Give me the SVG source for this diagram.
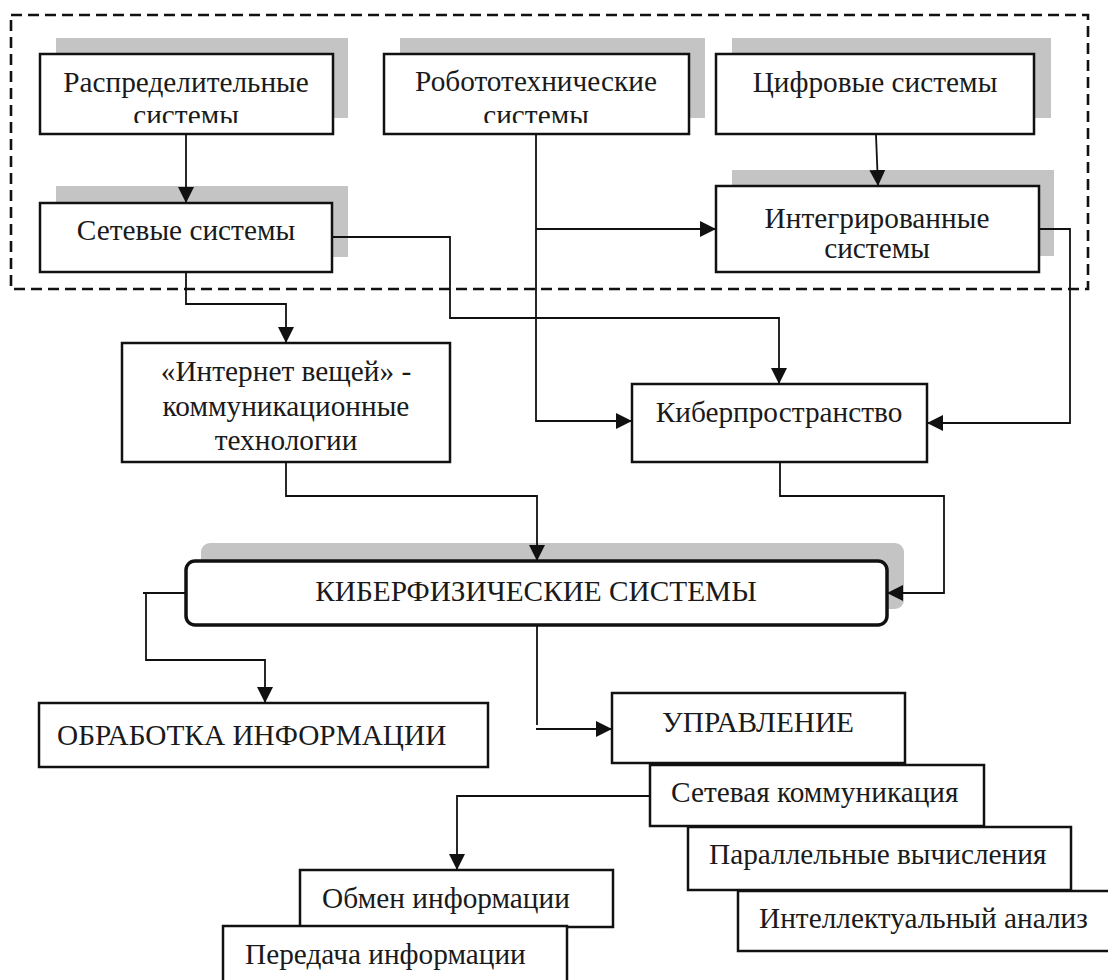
<svg xmlns="http://www.w3.org/2000/svg" width="1108" height="980" viewBox="0 0 1108 980">
<defs>
<style>
.box{fill:#fff;stroke:#111;stroke-width:2.5}
.shadow{fill:#c4c4c4}
.t{font-family:"Liberation Serif","Times New Roman",serif;font-size:29.3px;fill:#1a1a1a}
.c{text-anchor:middle}
.ln{fill:none;stroke:#111;stroke-width:1.8}
.frame{fill:none;stroke:#111;stroke-width:2.6;stroke-dasharray:11 6}
</style>
<marker id="arr" markerUnits="userSpaceOnUse" markerWidth="16" markerHeight="16" refX="14" refY="7" orient="auto" viewBox="0 0 14 14">
<path d="M0,0 L14,7 L0,14 z" fill="#111"/>
</marker>
<clipPath id="clipRaspr"><rect x="40" y="54" width="293" height="69"/></clipPath>
<clipPath id="clipRobo"><rect x="384" y="54" width="305" height="69"/></clipPath>
</defs>
<rect width="1108" height="980" fill="#fff"/>

<rect class="frame" x="11" y="15" width="1077" height="274"/>

<g id="n-raspr">
<rect class="shadow" x="56" y="38" width="292" height="80"/>
<rect class="box" x="40" y="54" width="293" height="80"/>
<g clip-path="url(#clipRaspr)">
<text class="t c" x="186" y="92">Распределительные</text>
<text class="t c" x="186" y="125">системы</text>
</g>
</g>

<g id="n-robo">
<rect class="shadow" x="400" y="38" width="305" height="80"/>
<rect class="box" x="384" y="54" width="305" height="80"/>
<g clip-path="url(#clipRobo)">
<text class="t c" x="536" y="91">Робототехнические</text>
<text class="t c" x="536" y="125">системы</text>
</g>
</g>

<g id="n-cifr">
<rect class="shadow" x="732" y="38" width="319" height="80"/>
<rect class="box" x="716" y="54" width="318" height="80"/>
<text class="t c" x="875" y="92">Цифровые системы</text>
</g>

<g id="n-setevye">
<rect class="shadow" x="56" y="186" width="292" height="71"/>
<rect class="box" x="40" y="203" width="292" height="69"/>
<text class="t c" x="186" y="240">Сетевые системы</text>
</g>

<g id="n-integr">
<rect class="shadow" x="732" y="170" width="322" height="86"/>
<rect class="box" x="716" y="186" width="323" height="86"/>
<text class="t c" x="877" y="228">Интегрированные</text>
<text class="t c" x="877" y="258">системы</text>
</g>

<g id="n-internet">
<rect class="box" x="122" y="343" width="328" height="119"/>
<text class="t c" x="286" y="381">«Интернет вещей» -</text>
<text class="t c" x="286" y="416">коммуникационные</text>
<text class="t c" x="286" y="450">технологии</text>
</g>

<g id="n-kiber">
<rect class="box" x="632" y="384" width="295" height="78"/>
<text class="t c" x="779" y="422">Киберпространство</text>
</g>

<g id="n-kfs">
<rect class="shadow" x="201" y="543" width="703" height="66" rx="9"/>
<rect class="box" x="186" y="561" width="701" height="64" rx="9" style="stroke-width:3.5"/>
<text class="t c" x="536" y="601">КИБЕРФИЗИЧЕСКИЕ СИСТЕМЫ</text>
</g>

<g id="n-obrab">
<rect class="box" x="39" y="703" width="449" height="64"/>
<text class="t" x="57" y="745">ОБРАБОТКА ИНФОРМАЦИИ</text>
</g>

<g id="n-uprav">
<rect class="box" x="612" y="693" width="293" height="70"/>
<text class="t c" x="758" y="732">УПРАВЛЕНИЕ</text>
</g>

<g id="n-setkom">
<rect class="box" x="650" y="765" width="334" height="61"/>
<text class="t" x="671" y="802">Сетевая коммуникация</text>
</g>

<g id="n-parall">
<rect class="box" x="688" y="827" width="383" height="63"/>
<text class="t" x="709" y="864">Параллельные вычисления</text>
</g>

<g id="n-intel">
<rect class="box" x="738" y="891" width="380" height="60"/>
<text class="t" x="759" y="928">Интеллектуальный анализ</text>
</g>

<g id="n-obmen">
<rect class="box" x="300" y="870" width="313" height="57"/>
<text class="t" x="322" y="908">Обмен информации</text>
</g>

<g id="n-peredacha">
<rect class="box" x="223" y="926" width="344" height="64"/>
<text class="t" x="245" y="964">Передача информации</text>
</g>

<g id="connectors">
<path class="ln" d="M186,135 V203" marker-end="url(#arr)"/>
<path class="ln" d="M186,273 V304 H286 V343" marker-end="url(#arr)"/>
<path class="ln" d="M333,237 H450 V318 H779 V384" marker-end="url(#arr)"/>
<path class="ln" d="M536,135 V421 H632" marker-end="url(#arr)"/>
<path class="ln" d="M536,229 H716" marker-end="url(#arr)"/>
<path class="ln" d="M876,135 L878,186" marker-end="url(#arr)"/>
<path class="ln" d="M1040,229 H1070 V423 H927" marker-end="url(#arr)"/>
<path class="ln" d="M286,463 V496 H537 V561" marker-end="url(#arr)"/>
<path class="ln" d="M780,463 V496 H944 V593 H887" marker-end="url(#arr)"/>
<path class="ln" d="M185,593 H143"/>
<path class="ln" d="M146,593 V660 H265 V703" marker-end="url(#arr)"/>
<path class="ln" d="M537,626 V725"/>
<path class="ln" d="M536,729 H612" marker-end="url(#arr)"/>
<path class="ln" d="M649,796 H457 V870" marker-end="url(#arr)"/>
</g>
</svg>
